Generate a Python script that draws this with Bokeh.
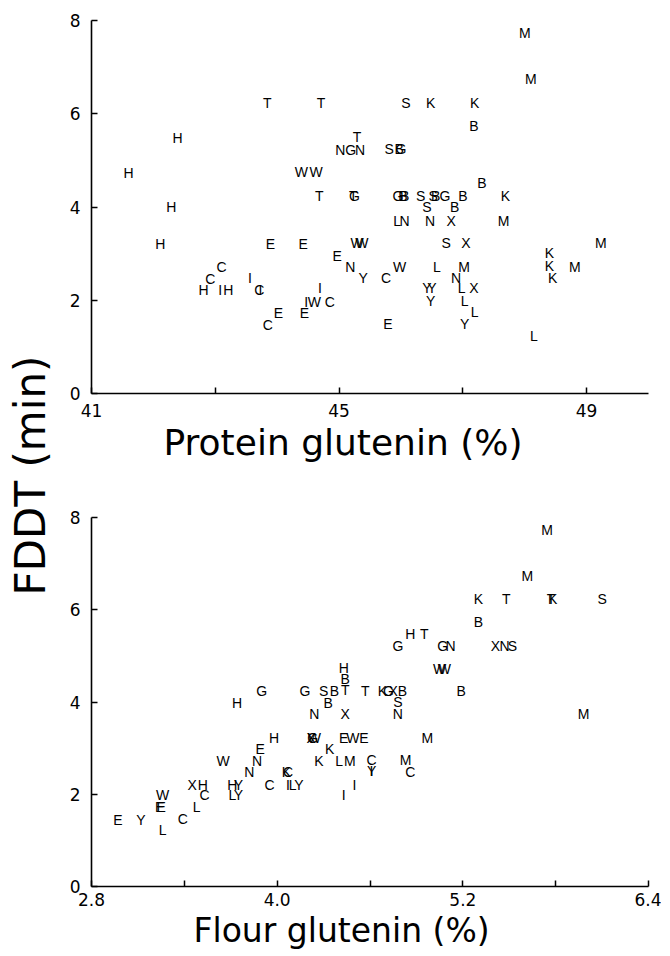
import math
from bokeh.plotting import figure
from bokeh.layouts import row, column
from bokeh.models import Range1d, FixedTicker, Label, Title, ColumnDataSource
from bokeh.core.properties import value
from bokeh.embed import file_html
from bokeh.resources import INLINE

# ---------------- data: top panel (protein glutenin vs FDDT) ----------------
top_cultivar = ["T", "T", "S", "K", "K", "M", "M", "H", "T", "N", "G", "N", "S", "B", "G", "B",
                "H", "W", "W", "T", "T", "G", "G", "B", "B", "S", "S", "B", "G", "B", "S", "B",
                "B", "K", "H", "L", "N", "N", "X", "M", "H", "E", "E", "W", "W", "S", "X", "M",
                "E", "K", "K", "K", "M", "W", "L", "M", "N", "C", "Y", "C", "N", "C", "I", "H",
                "I", "H", "C", "I", "Y", "Y", "L", "X", "I", "I", "W", "C", "Y", "L", "E", "E",
                "L", "C", "E", "Y", "L"]
top_protein_glutenin = [43.84, 44.71, 46.08, 46.48, 47.19, 48.00, 48.10, 42.39, 45.29, 45.02, 45.19, 45.34,
                        45.81, 45.97, 46.00, 47.18, 41.60, 44.39, 44.63, 44.68, 45.23, 45.25, 45.95, 46.03,
                        46.06, 46.32, 46.52, 46.56, 46.71, 47.00, 46.42, 46.87, 47.31, 47.69, 42.29, 45.94,
                        46.06, 46.47, 46.81, 47.66, 42.11, 43.89, 44.42, 45.29, 45.37, 46.73, 47.05, 49.23,
                        44.97, 48.40, 48.40, 48.45, 48.81, 45.98, 46.58, 47.02, 45.18, 43.10, 45.39, 45.76,
                        46.89, 42.92, 43.56, 42.81, 43.08, 43.21, 43.71, 43.73, 46.42, 46.50, 46.98, 47.18,
                        44.69, 44.47, 44.60, 44.85, 46.48, 47.03, 44.02, 44.44, 47.19, 43.85, 45.79, 47.03,
                        48.15]
top_fddt = [6.24, 6.24, 6.24, 6.24, 6.24, 7.74, 6.75, 5.48, 5.50, 5.23, 5.23, 5.23,
            5.25, 5.25, 5.25, 5.74, 4.73, 4.75, 4.75, 4.24, 4.24, 4.24, 4.24, 4.24,
            4.24, 4.24, 4.24, 4.24, 4.24, 4.24, 4.00, 4.00, 4.52, 4.24, 4.00, 3.70,
            3.70, 3.70, 3.70, 3.70, 3.20, 3.20, 3.20, 3.22, 3.22, 3.22, 3.22, 3.22,
            2.95, 3.01, 2.73, 2.47, 2.71, 2.71, 2.71, 2.71, 2.71, 2.71, 2.47, 2.47,
            2.47, 2.45, 2.47, 2.22, 2.22, 2.22, 2.22, 2.22, 2.26, 2.26, 2.26, 2.26,
            2.26, 1.96, 1.96, 1.96, 1.98, 1.98, 1.72, 1.72, 1.74, 1.46, 1.48, 1.48,
            1.23]

# ---------------- data: bottom panel (flour glutenin vs FDDT) ----------------
bot_cultivar = ["M", "M", "K", "T", "K", "T", "S", "B", "H", "T", "G", "G", "N", "X", "N", "S",
                "W", "W", "H", "B", "T", "G", "G", "S", "B", "T", "K", "G", "X", "B", "B", "H",
                "B", "S", "N", "X", "N", "M", "H", "X", "G", "W", "E", "W", "E", "M", "E", "K",
                "W", "N", "K", "L", "M", "C", "M", "N", "K", "C", "I", "Y", "C", "X", "H", "H",
                "Y", "C", "I", "L", "Y", "I", "I", "W", "C", "L", "Y", "E", "E", "L", "C", "E",
                "Y", "L"]
bot_flour_glutenin = [5.745, 5.617, 5.30, 5.48, 5.78, 5.77, 6.10, 5.30, 4.86, 4.95, 4.78, 5.07,
                      5.12, 5.41, 5.47, 5.52, 5.05, 5.08, 4.43, 4.44, 4.44, 3.90, 4.18, 4.30,
                      4.37, 4.57, 4.68, 4.72, 4.75, 4.81, 5.19, 3.74, 4.33, 4.78, 4.24, 4.44,
                      4.78, 5.98, 3.98, 4.22, 4.23, 4.24, 4.43, 4.49, 4.56, 4.97, 3.89, 4.34,
                      3.65, 3.87, 4.27, 4.40, 4.47, 4.61, 4.83, 3.82, 4.06, 4.07, 4.61, 4.61,
                      4.86, 3.45, 3.52, 3.71, 3.75, 3.95, 4.07, 4.10, 4.14, 4.50, 4.43, 3.26,
                      3.53, 3.71, 3.75, 3.24, 3.25, 3.48, 3.39, 2.97, 3.12, 3.26]
bot_fddt = [7.72, 6.73, 6.24, 6.24, 6.24, 6.24, 6.24, 5.74, 5.48, 5.48, 5.22, 5.22,
            5.22, 5.22, 5.22, 5.22, 4.72, 4.72, 4.74, 4.50, 4.25, 4.23, 4.23, 4.23,
            4.23, 4.23, 4.23, 4.23, 4.23, 4.23, 4.23, 3.97, 3.97, 3.99, 3.73, 3.73,
            3.73, 3.73, 3.21, 3.21, 3.21, 3.21, 3.21, 3.21, 3.21, 3.21, 2.98, 2.98,
            2.72, 2.72, 2.72, 2.72, 2.72, 2.74, 2.74, 2.48, 2.48, 2.48, 2.50, 2.50,
            2.48, 2.20, 2.20, 2.20, 2.20, 2.20, 2.20, 2.20, 2.20, 2.20, 1.98, 1.98,
            1.98, 1.98, 1.98, 1.73, 1.73, 1.73, 1.47, 1.45, 1.45, 1.23]

# ---------------- axes ----------------
y_ticks = [0, 2, 4, 6, 8]
top_xticks = [41, 43, 45, 47, 49]
top_xtick_labels = ["41", "", "45", "", "49"]
bot_xticks = [2.8, 3.4, 4.0, 4.6, 5.2, 5.8, 6.4]
bot_xtick_labels = ["2.8", "", "4.0", "", "5.2", "", "6.4"]
y_title = "FDDT (min)"
top_x_title = "Protein glutenin (%)"
bot_x_title = "Flour glutenin (%)"

AX_FONT = "DejaVu Sans"
PT_FONT = "Liberation Sans Narrow, Liberation Sans"


def style(p, xticks, xlabels, xstandoff):
    p.xgrid.visible = False
    p.ygrid.visible = False
    p.outline_line_color = None
    p.background_fill_color = "white"
    p.border_fill_color = "white"
    for ax in (p.xaxis[0], p.yaxis[0]):
        ax.axis_line_width = 1.6
        ax.axis_line_color = "black"
        ax.major_tick_in = 6
        ax.major_tick_out = 0
        ax.major_tick_line_width = 1.5
        ax.major_tick_line_color = "black"
        ax.minor_tick_line_color = None
        ax.major_label_text_font = AX_FONT
        ax.major_label_text_font_size = "17px"
        ax.major_label_text_color = "black"
    p.xaxis.ticker = FixedTicker(ticks=xticks)
    p.xaxis.major_label_overrides = {t: s for t, s in zip(xticks, xlabels)}
    p.yaxis.ticker = FixedTicker(ticks=y_ticks)
    p.xaxis.major_label_standoff = xstandoff
    p.yaxis.major_label_standoff = 11


def add_title(p, text, offset, size):
    p.add_layout(Title(text=text, align="left", offset=offset, standoff=0,
                       text_font=AX_FONT, text_font_size=size,
                       text_font_style="normal", text_color="black"), "below")


def letters(p, xs, ys, labels):
    src = ColumnDataSource(dict(x=xs, y=ys, t=labels))
    p.text(x="x", y="y", text="t", source=src, text_align="center",
           text_baseline="middle", text_font=value(PT_FONT),
           text_font_size="14px", text_color="black")


# top panel
p1 = figure(width=606, height=481, x_range=Range1d(41, 50), y_range=Range1d(0, 8),
            output_backend="svg", toolbar_location=None,
            min_border_left=35, min_border_right=13, min_border_top=20, min_border_bottom=88)
style(p1, top_xticks, top_xtick_labels, 10)
letters(p1, top_protein_glutenin, top_fddt, top_cultivar)
add_title(p1, top_x_title, 72, "36px")

# bottom panel
p2 = figure(width=606, height=473, x_range=Range1d(2.8, 6.4), y_range=Range1d(0, 8),
            output_backend="svg", toolbar_location=None,
            min_border_left=36, min_border_right=11, min_border_top=36, min_border_bottom=68)
style(p2, bot_xticks, bot_xtick_labels, 6)
letters(p2, bot_flour_glutenin, bot_fddt, bot_cultivar)
add_title(p2, bot_x_title, 102, "33px")

# shared y title
lf = figure(width=55, height=954, x_range=Range1d(0, 55), y_range=Range1d(0, 954),
            output_backend="svg", toolbar_location=None, min_border=0,
            x_axis_location=None, y_axis_location=None)
lf.outline_line_color = None
lf.xgrid.visible = False
lf.ygrid.visible = False
lf.add_layout(Label(x=30, y=479, text=y_title, angle=math.pi / 2, text_align="center",
                    text_baseline="middle", text_font=AX_FONT,
                    text_font_size="42px", text_color="black"))

layout = row(lf, column(p1, p2))
open("out.html", "w").write(file_html(layout, INLINE))
